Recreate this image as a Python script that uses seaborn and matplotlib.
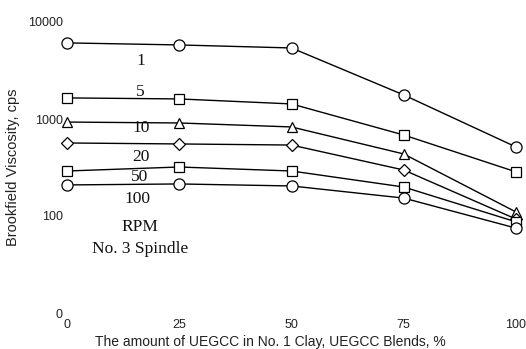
import matplotlib
matplotlib.use("Agg")
import matplotlib.pyplot as plt
import seaborn as sns
import pandas as pd

# Data
blend_pct = [0, 25, 50, 75, 100]
rpm_labels = ["1", "5", "10", "20", "50", "100"]
visc_1 = [6090, 5800, 5400, 1770, 515]
visc_5 = [1650, 1610, 1430, 684, 285]
visc_10 = [930, 910, 828, 436, 110]
visc_20 = [566, 553, 539, 298, 93]
visc_50 = [291, 320, 291, 199, 87]
visc_100 = [209, 214, 204, 153, 75]
series = [visc_1, visc_5, visc_10, visc_20, visc_50, visc_100]
markers = ["o", "s", "^", "D", "s", "o"]
msizes = [8, 7, 7, 6.5, 7, 8]

ytick_vals = [10, 100, 1000, 10000]
ytick_labels = ["0", "100", "1000", "10000"]
xtick_vals = [0, 25, 50, 75, 100]

sns.set_theme(style="white")
plt.rcParams['font.family'] = ['Liberation Sans', 'DejaVu Sans']

fig = plt.figure(figsize=(5.26, 3.49), dpi=100)
ax = fig.add_axes([67/526, 1 - 313/349, (516 - 67)/526, (313 - 22)/349])

for vals, lab, mk, ms in zip(series, rpm_labels, markers, msizes):
    df = pd.DataFrame({"x": blend_pct, "v": vals})
    sns.lineplot(data=df, x="x", y="v", ax=ax, color="black", linewidth=1.0,
                 marker=mk, markersize=ms, markerfacecolor="white",
                 markeredgecolor="black", markeredgewidth=0.9, clip_on=False)

ax.set_yscale("log")
ax.set_xlim(0, 100)
ax.set_ylim(10, 10000)
ax.set_yticks(ytick_vals)
ax.set_yticklabels(ytick_labels)
ax.minorticks_off()
ax.set_xticks(xtick_vals)
ax.set_xticklabels([str(v) for v in xtick_vals])
ax.tick_params(axis="both", length=0, labelsize=9, colors="#222222")
ax.tick_params(axis="y", pad=3)
ax.tick_params(axis="x", pad=4)
for s in ax.spines.values():
    s.set_visible(False)

ax.set_xlabel("The amount of UEGCC in No. 1 Clay, UEGCC Blends, %", fontsize=10, color="#222222")
ax.set_ylabel("Brookfield Viscosity, cps", fontsize=10.5, color="#222222")
ax.xaxis.set_label_coords((270 - 67) / (516 - 67), -(335 - 313) / 291)
ax.yaxis.set_label_coords(-(67 - 20) / (516 - 67), 0.5)

# Series annotations (figure pixel positions)
serif = ['Liberation Serif', 'DejaVu Serif']
notes = [("1", 141, 61), ("5", 140, 92), ("10", 141, 128), ("20", 141, 157),
         ("50", 140, 177), ("100", 137, 199), ("RPM", 140, 227),
         ("No. 3 Spindle", 140, 249)]
for txt, px, py in notes:
    fig.text(px / 526, 1 - py / 349, txt, ha="center", va="center",
             fontsize=12.5, family=serif, color="#111111")

fig.savefig("out.png", dpi=100)
